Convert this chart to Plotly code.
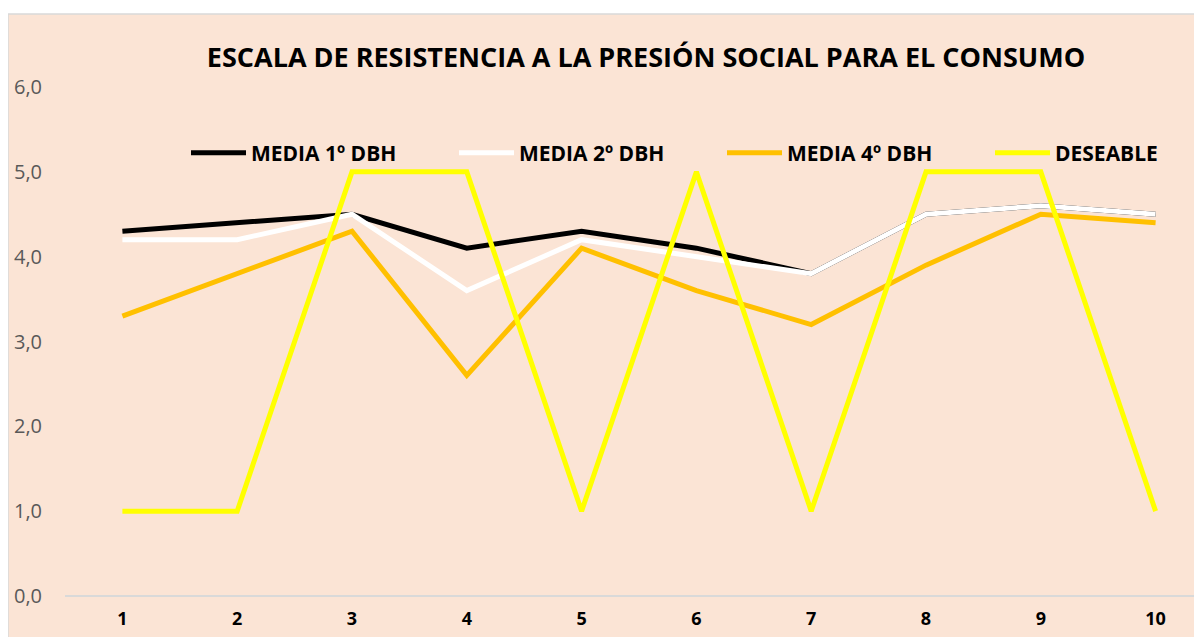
import plotly.graph_objects as go

categories = [1, 2, 3, 4, 5, 6, 7, 8, 9, 10]
media_1 = [4.3, 4.4, 4.5, 4.1, 4.3, 4.1, 3.8, 4.5, 4.6, 4.5]
media_2 = [4.2, 4.2, 4.5, 3.6, 4.2, 4.0, 3.8, 4.5, 4.6, 4.5]
media_4 = [3.3, 3.8, 4.3, 2.6, 4.1, 3.6, 3.2, 3.9, 4.5, 4.4]
deseable = [1, 1, 5, 5, 1, 5, 1, 5, 5, 1]
series_names = ["MEDIA 1º DBH", "MEDIA 2º DBH", "MEDIA 4º DBH", "DESEABLE"]
series_colors = ["#000000", "#FFFFFF", "#FFC000", "#FFFF00"]
y_ticks = [0, 1, 2, 3, 4, 5, 6]

OFF = 8  # default page body margin
W, H = 1202 - OFF, 637 - OFF
L, R, T, B = 65 - OFF, 0, 87 - OFF, 41
pw = W - L - R
ph = H - T - B
step = 114.8
x_lo = 0.5
x_hi = x_lo + pw / step


def px_y(page_y):
    return (H - B - (page_y - OFF)) / ph


def px_x(page_x):
    return (page_x - OFF - L) / pw


entry_widths = [198, 198, 198, 115]

fig = go.Figure()
for name, vals, col, ew in zip(series_names, [media_1, media_2, media_4, deseable],
                               series_colors, entry_widths):
    fig.add_trace(go.Scatter(
        x=categories, y=vals, name=name, mode="lines",
        line=dict(color=col, width=5, shape="linear"),
        legendwidth=ew,
    ))

# chart area background
fig.add_shape(type="rect", xref="paper", yref="paper",
              x0=px_x(8), x1=px_x(1210),
              y0=px_y(650), y1=px_y(14),
              fillcolor="#FBE4D5", line=dict(color="#D9D9D9", width=1.5),
              layer="below")

fig.update_layout(
    width=W, height=H,
    margin=dict(l=L, r=R, t=T, b=B, pad=0),
    paper_bgcolor="white",
    plot_bgcolor="rgba(0,0,0,0)",
    separators=",.",
    title=dict(text="<b>ESCALA DE RESISTENCIA A LA PRESIÓN SOCIAL PARA EL CONSUMO</b>",
               x=(646 - OFF) / W, xanchor="center", xref="container",
               y=1 - (58 - OFF) / H, yanchor="middle", yref="container",
               font=dict(family="Open Sans", size=27, color="#000000")),
    legend=dict(orientation="h", x=px_x(186), xanchor="left",
                y=px_y(153), yanchor="middle",
                bgcolor="rgba(0,0,0,0)", entrywidth=198, entrywidthmode="pixels",
                font=dict(family="Open Sans", size=21, color="#000000", weight="bold"),
                itemwidth=55),
    showlegend=True,
    xaxis=dict(range=[x_lo, x_hi], tickmode="array", tickvals=categories,
               ticktext=[f"<b>{c}</b>" for c in categories],
               showgrid=False, zeroline=False, showline=False, ticks="",
               tickfont=dict(family="Open Sans", size=18, color="#000000"),
               ticklabelstandoff=10),
    yaxis=dict(range=[0, 6], tickmode="array", tickvals=y_ticks, tickformat=".1f",
               showgrid=False, zeroline=True, zerolinecolor="#D9D9D9", zerolinewidth=2,
               showline=False, ticks="",
               tickfont=dict(family="Open Sans", size=20, color="#595959"),
               ticklabelstandoff=22),
)

fig.write_html("out.html")
